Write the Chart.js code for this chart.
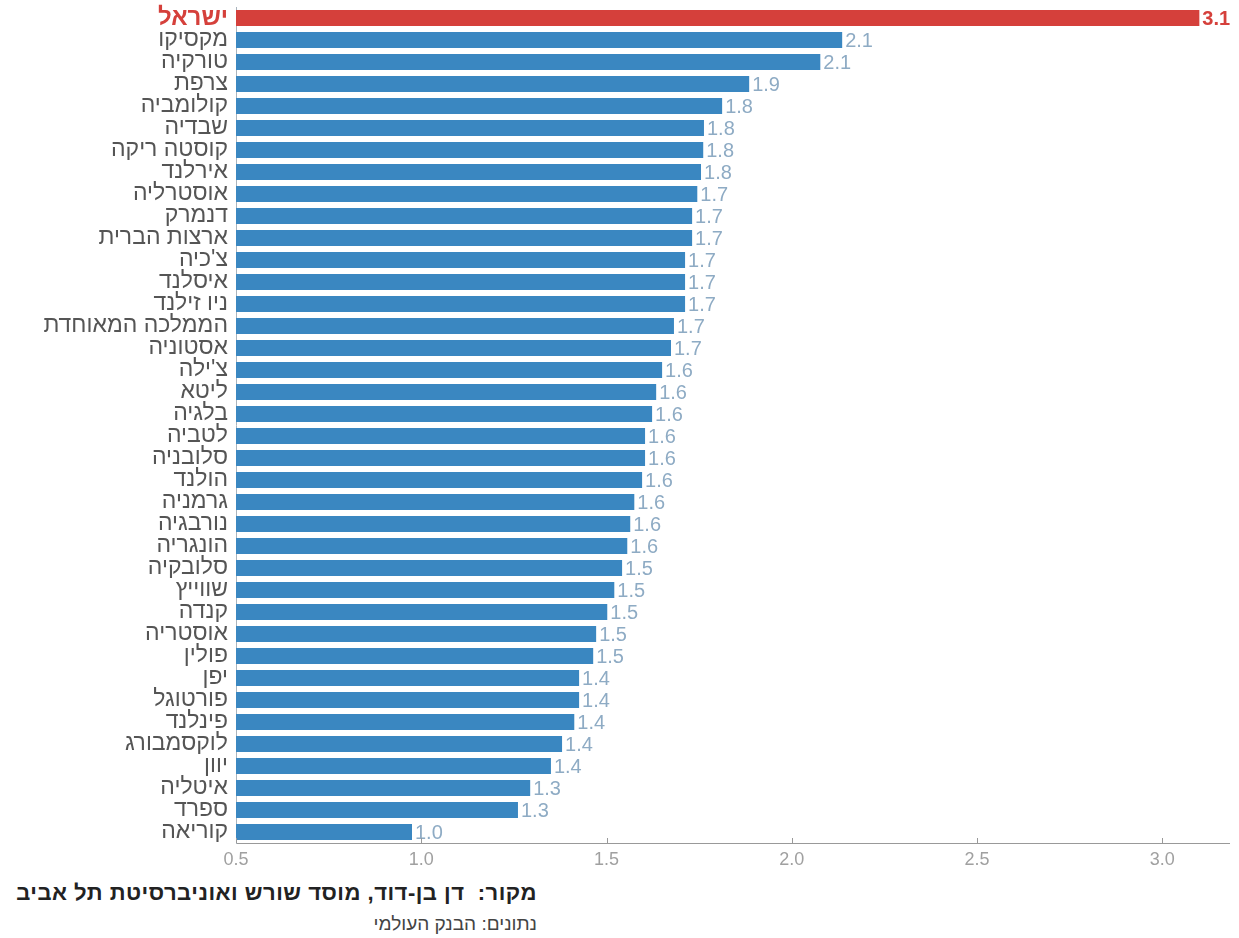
<!DOCTYPE html>
<html lang="he">
<head>
<meta charset="utf-8">
<script src="https://cdn.jsdelivr.net/npm/chart.js@4"></script>
<style>
  body { margin: 0; background: #fff; font-family: "Liberation Sans", Arial, sans-serif; }
  .wrap { position: relative; width: 1239px; height: 938px; }
  .box { position: absolute; left: 0; top: 0; width: 1239px; height: 880px; }
  .src { position: absolute; right: 702px; top: 880px; direction: rtl; text-align: right; white-space: nowrap; }
  .src1 { font-size: 22px; font-weight: bold; color: #222; letter-spacing: 0.5px; }
  .src2 { font-size: 19px; color: #444; margin-top: 7px; }
</style>
</head>
<body>
<div class="wrap">
  <div class="box"><canvas id="growthChart"></canvas></div>
  <div class="src">
    <div class="src1">מקור:&nbsp; דן בן-דוד, מוסד שורש ואוניברסיטת תל אביב</div>
    <div class="src2">נתונים: הבנק העולמי</div>
  </div>
</div>
<script>
// countries, top to bottom
const countries = ['ישראל', 'מקסיקו', 'טורקיה', 'צרפת', 'קולומביה', 'שבדיה', 'קוסטה ריקה', 'אירלנד',
  'אוסטרליה', 'דנמרק', 'ארצות הברית', "צ'כיה", 'איסלנד', 'ניו זילנד', 'הממלכה המאוחדת', 'אסטוניה',
  "צ'ילה", 'ליטא', 'בלגיה', 'לטביה', 'סלובניה', 'הולנד', 'גרמניה', 'נורבגיה', 'הונגריה', 'סלובקיה',
  'שווייץ', 'קנדה', 'אוסטריה', 'פולין', 'יפן', 'פורטוגל', 'פינלנד', 'לוקסמבורג', 'יוון', 'איטליה',
  'ספרד', 'קוריאה'];

// bar lengths
const values = [3.10, 2.136, 2.077, 1.885, 1.812, 1.763, 1.761, 1.755, 1.745, 1.731, 1.731, 1.712,
  1.712, 1.712, 1.682, 1.674, 1.650, 1.634, 1.623, 1.604, 1.604, 1.596, 1.575, 1.564, 1.556, 1.542,
  1.521, 1.502, 1.472, 1.464, 1.426, 1.426, 1.413, 1.380, 1.350, 1.294, 1.261, 0.975];

// printed value labels
const valueLabels = ['3.1', '2.1', '2.1', '1.9', '1.8', '1.8', '1.8', '1.8', '1.7', '1.7', '1.7', '1.7',
  '1.7', '1.7', '1.7', '1.7', '1.6', '1.6', '1.6', '1.6', '1.6', '1.6', '1.6', '1.6', '1.6', '1.5',
  '1.5', '1.5', '1.5', '1.5', '1.4', '1.4', '1.4', '1.4', '1.4', '1.3', '1.3', '1.0'];

const xTicks = [0.5, 1.0, 1.5, 2.0, 2.5, 3.0];

const RED = '#d5403b';
const BLUE = '#3a87c1';
const FONT = '"Liberation Sans", Arial, sans-serif';

// value labels at the end of each bar
const valueLabelPlugin = {
  id: 'valueLabels',
  afterDatasetsDraw(chart) {
    const ctx = chart.ctx;
    const meta = chart.getDatasetMeta(0);
    ctx.save();
    ctx.textBaseline = 'middle';
    ctx.textAlign = 'left';
    meta.data.forEach((bar, i) => {
      if (i === 0) {
        ctx.fillStyle = RED;
        ctx.font = 'bold 20px ' + FONT;
      } else {
        ctx.fillStyle = '#8eabc4';
        ctx.font = '20px ' + FONT;
      }
      ctx.fillText(valueLabels[i], bar.x + 3, bar.y + 1);
    });
    ctx.restore();
  }
};

// little tick marks pointing up from the x axis
const upTicksPlugin = {
  id: 'upTicks',
  afterDraw(chart) {
    const ctx = chart.ctx;
    const x = chart.scales.x;
    const bottom = chart.chartArea.bottom;
    ctx.save();
    ctx.strokeStyle = '#999';
    ctx.lineWidth = 1;
    xTicks.forEach(t => {
      const px = Math.round(x.getPixelForValue(t)) + 0.5;
      ctx.beginPath();
      ctx.moveTo(px, bottom);
      ctx.lineTo(px, bottom - 5);
      ctx.stroke();
    });
    ctx.restore();
  }
};

const ctx = document.getElementById('growthChart').getContext('2d');

new Chart(ctx, {
  type: 'bar',
  data: {
    labels: countries,
    datasets: [{
      data: values,
      base: 0.5,
      backgroundColor: countries.map((c, i) => i === 0 ? RED : BLUE),
      barPercentage: 0.73,
      categoryPercentage: 1
    }]
  },
  options: {
    indexAxis: 'y',
    responsive: true,
    maintainAspectRatio: false,
    animation: false,
    layout: { padding: { top: 7, right: 10, bottom: 7, left: 0 } },
    plugins: {
      legend: { display: false },
      tooltip: { enabled: false }
    },
    scales: {
      x: {
        min: 0.5,
        max: 3.18,
        grid: { display: false, drawTicks: false },
        border: { display: true, color: '#999', width: 1 },
        ticks: {
          stepSize: 0.5,
          includeBounds: false,
          padding: 6,
          color: '#a0a0a0',
          font: { family: FONT, size: 18 },
          callback: v => v.toFixed(1)
        },
        afterFit(scale) {
          scale.height = 30;
          scale.paddingLeft = 0;
          scale.paddingRight = 0;
        }
      },
      y: {
        grid: { display: false, drawTicks: false },
        border: { display: true, color: '#aab4bd', width: 1 },
        ticks: {
          padding: 8,
          autoSkip: false,
          color: c => c.index === 0 ? RED : '#555',
          font: c => c.index === 0
            ? { family: FONT, size: 24, weight: 'bold' }
            : { family: FONT, size: 23 }
        },
        afterFit(scale) {
          scale.width = 236;
          scale.paddingTop = 0;
          scale.paddingBottom = 0;
        }
      }
    }
  },
  plugins: [valueLabelPlugin, upTicksPlugin]
});
</script>
</body>
</html>
